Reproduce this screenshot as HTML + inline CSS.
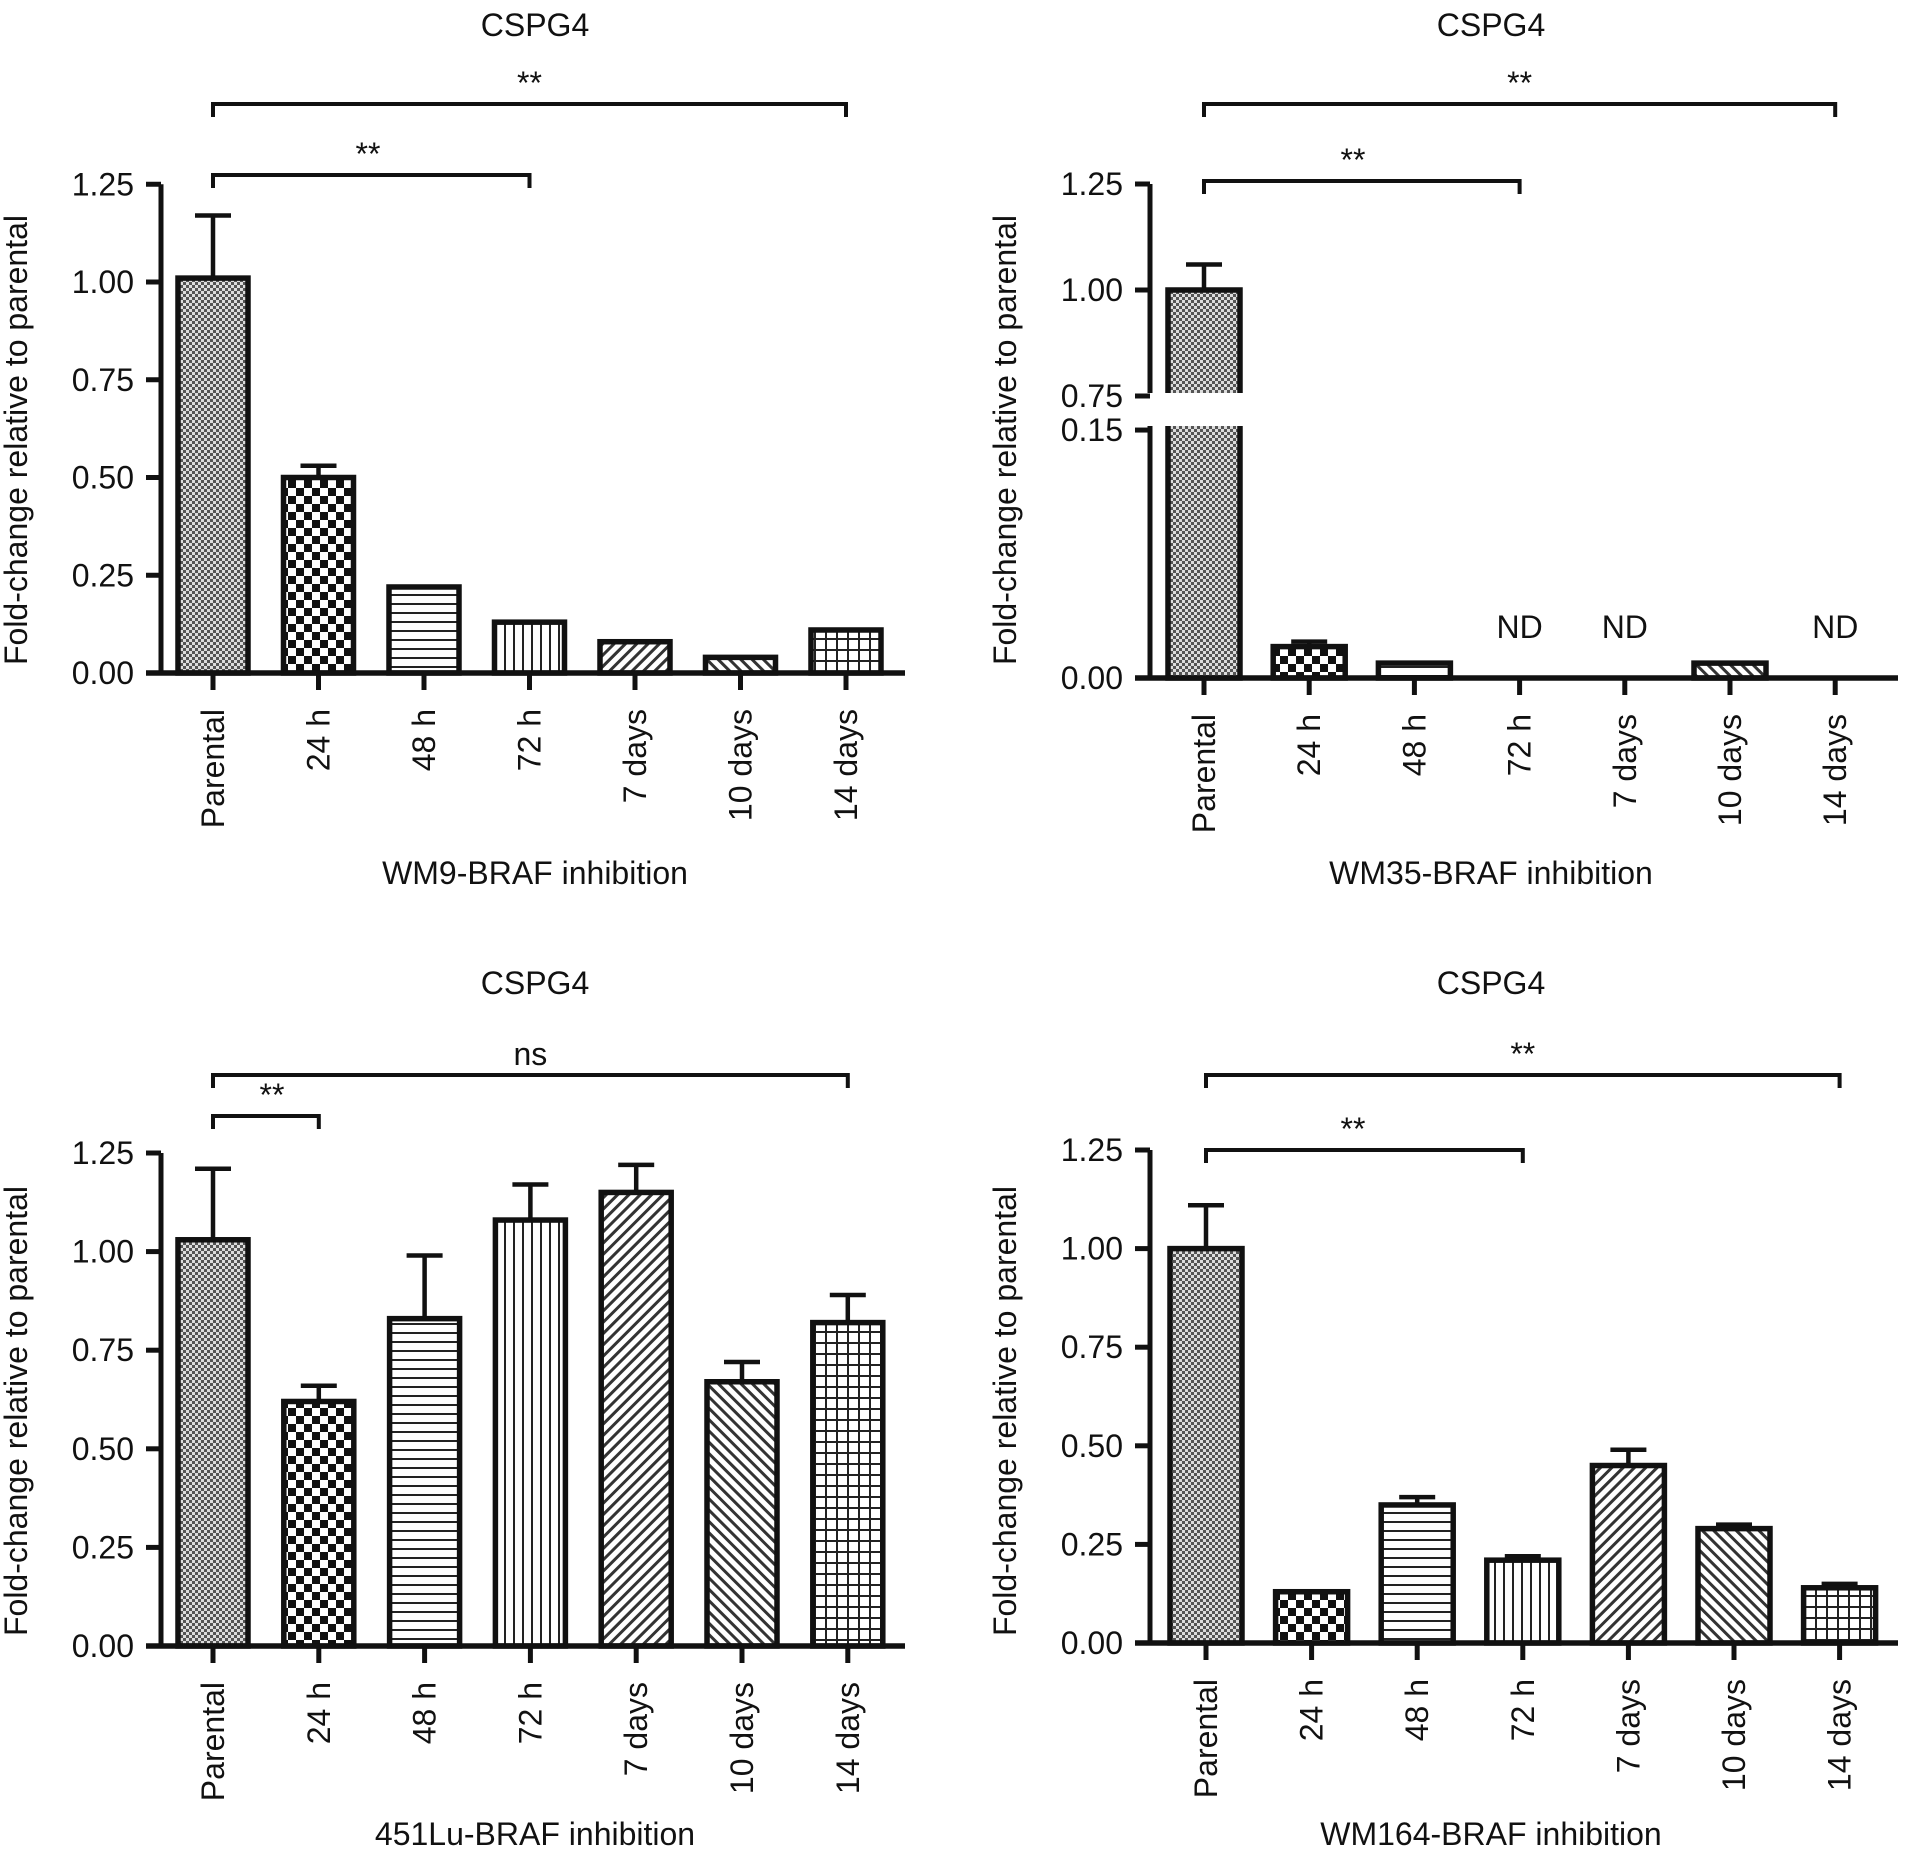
<!DOCTYPE html>
<html><head><meta charset="utf-8"><style>
html,body{margin:0;padding:0;background:#fff;}
svg{display:block;}
text{font-family:"Liberation Sans",sans-serif;fill:#111;}
</style></head><body>
<svg id="fig" width="1913" height="1849" viewBox="0 0 1913 1849" xmlns="http://www.w3.org/2000/svg">
<defs>
<pattern id="p0" width="6" height="6" patternUnits="userSpaceOnUse"><rect width="6" height="6" fill="#555"/><rect width="3" height="3" fill="#ddd"/><rect x="3" y="3" width="3" height="3" fill="#ddd"/></pattern>
<pattern id="p1" width="16" height="16" patternUnits="userSpaceOnUse"><rect width="16" height="16" fill="#fff"/><rect width="8" height="8" fill="#111"/><rect x="8" y="8" width="8" height="8" fill="#111"/></pattern>
<pattern id="p2" width="8" height="9" patternUnits="userSpaceOnUse"><rect width="8" height="9" fill="#fff"/><rect y="0" width="8" height="2" fill="#222"/></pattern>
<pattern id="p3" width="9" height="8" patternUnits="userSpaceOnUse"><rect width="9" height="8" fill="#fff"/><rect x="0" width="2" height="8" fill="#222"/></pattern>
<pattern id="p4" width="8" height="8" patternUnits="userSpaceOnUse" patternTransform="rotate(45)"><rect width="8" height="8" fill="#fff"/><rect width="3" height="8" fill="#333"/></pattern>
<pattern id="p5" width="8" height="8" patternUnits="userSpaceOnUse" patternTransform="rotate(-45)"><rect width="8" height="8" fill="#fff"/><rect width="3" height="8" fill="#333"/></pattern>
<pattern id="p6" width="11" height="11" patternUnits="userSpaceOnUse"><rect width="11" height="11" fill="#fff"/><rect width="11" height="2" fill="#222"/><rect width="2" height="11" fill="#222"/></pattern>
</defs>
</svg>
<script>
const categories = ["Parental","24 h","48 h","72 h","7 days","10 days","14 days"];
const wm9Values = [1.01,0.50,0.22,0.13,0.08,0.04,0.11];
const wm9Err = [1.17,0.53,null,null,null,null,null];
const wm35Values = [1.00,0.019,0.009,null,null,0.009,null];
const wm35Err = [1.06,0.022,null,null,null,null,null];
const lu451Values = [1.03,0.62,0.83,1.08,1.15,0.67,0.82];
const lu451Err = [1.21,0.66,0.99,1.17,1.22,0.72,0.89];
const wm164Values = [1.00,0.13,0.35,0.21,0.45,0.29,0.14];
const wm164Err = [1.11,null,0.37,0.22,0.49,0.30,0.15];
const yTicks = ["0.00","0.25","0.50","0.75","1.00","1.25"];
const yTicksBroken = ["0.00","0.15","0.75","1.00","1.25"];

const svg = document.getElementById('fig');
const NS = "http://www.w3.org/2000/svg";
const FS = 32;
function mk(tag, attrs, parent){
  const e = document.createElementNS(NS, tag);
  for (const k in attrs) e.setAttribute(k, attrs[k]);
  (parent||svg).appendChild(e);
  return e;
}
function txt(x,y,s,size,anchor,parent,rot){
  const t = mk('text',{x:x,y:y,'font-size':size,'text-anchor':anchor||'middle'},parent);
  if(rot) t.setAttribute('transform','rotate(-90 '+x+' '+y+')');
  t.textContent = s;
  return t;
}

function panel(p){
  const g = mk('g',{});
  
  
  const xScale = i => p.x0 + i*p.dx;
  const yScale = p.yScale;
  const t = txt(p.cxTitle, p.titleY, "CSPG4", FS, 'middle', g);
  
  
  p.values.forEach((v,i)=>{
    if(v===null){
      const nd = txt(xScale(i), p.y0-40, "ND", FS, 'middle', g);
      
      
      return;
    }
    const cx = xScale(i), top = yScale(v);
    if(p.err[i]!==null){
      const ey = yScale(p.err[i]);
      const el = mk('path',{d:'M'+cx+' '+top+'V'+ey+'M'+(cx-18)+' '+ey+'H'+(cx+18),stroke:'#111','stroke-width':4.5,fill:'none'},g);
      
      
    }
    const r = mk('rect',{x:cx-p.bw/2,y:top,width:p.bw,height:p.y0-top,fill:'url(#p'+i+')',stroke:'#111','stroke-width':5.5},g);
    
    
  });
  if(p.broken){
    const br = mk('rect',{x:p.ax-12,y:p.brk[0],width:xScale(0)+p.bw/2-p.ax+16,height:p.brk[1]-p.brk[0],fill:'#fff'},g);
    
    
  }
  let yd = p.broken ? 'M'+p.ax+' '+yScale(1.25)+'V'+p.brk[0]+'M'+p.ax+' '+p.brk[1]+'V'+p.y0 : 'M'+p.ax+' '+yScale(1.25)+'V'+p.y0;
  const ya = mk('path',{d:yd,stroke:'#111','stroke-width':5,fill:'none'},g);
  
  
  p.ticks.forEach(s=>{
    const v = parseFloat(s), y = yScale(v);
    mk('line',{x1:p.ax-15,x2:p.ax,y1:y,y2:y,stroke:'#111','stroke-width':5},g);
    const tl = txt(p.ax-27, y+11, s, FS, 'end', g);
    
    
  });
  const xa = mk('line',{x1:p.ax-15,x2:p.xEnd,y1:p.y0,y2:p.y0,stroke:'#111','stroke-width':5.5},g);
  
  
  categories.forEach((c,i)=>{
    const cx = xScale(i);
    mk('line',{x1:cx,x2:cx,y1:p.y0,y2:p.y0+17,stroke:'#111','stroke-width':5},g);
    const xl = txt(cx+11, p.y0+36, c, FS, 'end', g, true);
    
    
  });
  const yl = txt(p.ax-134, p.ylCenter+11, "Fold-change relative to parental", FS, 'middle', g);
  yl.setAttribute('transform','rotate(-90 '+(p.ax-134)+' '+(p.ylCenter+11)+')');
  
  
  const xt = txt(p.cxTitle, p.xlY, p.xlabel, FS, 'middle', g);
  
  
  p.brackets.forEach(b=>{
    const x1 = xScale(b.from), x2 = xScale(b.to);
    const bp = mk('path',{d:'M'+x1+' '+(b.y+13)+'V'+b.y+'H'+x2+'V'+(b.y+13),stroke:'#111','stroke-width':4,fill:'none'},g);
    
    
    const st = txt(b.tx!==undefined?b.tx:(x1+x2)/2, b.y-10, b.label, FS, 'middle', g);
    
    
  });
}

panel({name:'panel-wm9', x0:213, dx:105.5, bw:70, ax:161, y0:673, xEnd:905,
  yScale:v=>673 - v*391, ticks:yTicks, values:wm9Values, err:wm9Err,
  cxTitle:535, titleY:36, xlabel:"WM9-BRAF inhibition", xlY:884, ylCenter:429,
  brackets:[{from:0,to:6,y:104,label:"**"},{from:0,to:3,y:175,label:"**",tx:368}]});
panel({name:'panel-wm35', x0:1204, dx:105.2, bw:72, ax:1150, y0:678, xEnd:1898, broken:true, brk:[393,426],
  yScale:v=> v<=0.15 ? 678 - v*1653 : 184 + (1.25-v)*424, ticks:yTicksBroken, values:wm35Values, err:wm35Err,
  cxTitle:1491, titleY:36, xlabel:"WM35-BRAF inhibition", xlY:884, ylCenter:429,
  brackets:[{from:0,to:6,y:104,label:"**"},{from:0,to:3,y:181,label:"**",tx:1353}]});
panel({name:'panel-451lu', x0:213, dx:105.8, bw:70, ax:161, y0:1646, xEnd:905,
  yScale:v=>1646 - v*394.4, ticks:yTicks, values:lu451Values, err:lu451Err,
  cxTitle:535, titleY:994, xlabel:"451Lu-BRAF inhibition", xlY:1845, ylCenter:1400,
  brackets:[{from:0,to:6,y:1075,label:"ns"},{from:0,to:1,y:1116,label:"**",tx:272}]});
panel({name:'panel-wm164', x0:1206, dx:105.6, bw:72, ax:1150, y0:1643, xEnd:1898,
  yScale:v=>1643 - v*394.4, ticks:yTicks, values:wm164Values, err:wm164Err,
  cxTitle:1491, titleY:994, xlabel:"WM164-BRAF inhibition", xlY:1845, ylCenter:1400,
  brackets:[{from:0,to:6,y:1075,label:"**"},{from:0,to:3,y:1150,label:"**",tx:1353}]});
</script>
</body></html>
